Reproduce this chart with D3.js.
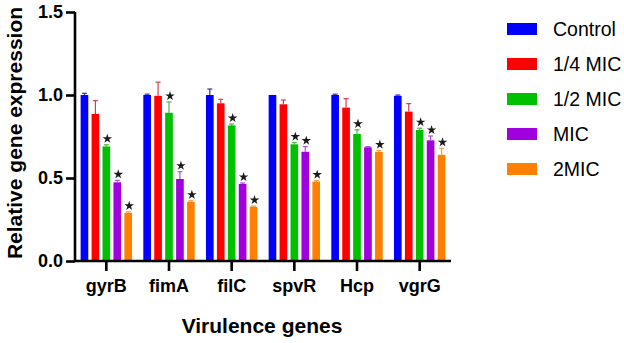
<!DOCTYPE html>
<html>
<head>
<meta charset="utf-8">
<script src="https://cdn.jsdelivr.net/npm/d3@7"></script>
<style>
  body { margin: 0; background: #fff; }
  svg { font-family: Arial, "Liberation Sans", sans-serif; }
</style>
</head>
<body>
<div id="chart"></div>
<script>
const genes = ["gyrB", "fimA", "filC", "spvR", "Hcp", "vgrG"];
const groups = ["Control", "1/4 MIC", "1/2 MIC", "MIC", "2MIC"];
const colors = ["#0000ff", "#ff0000", "#00c000", "#a000e0", "#ff8000"];
const errColors = ["#3030c0", "#d04050", "#50b050", "#b050e0", "#f0a040"];

// values per gene, in order of groups
const control = [1.0, 1.0, 1.0, 1.0, 1.0, 0.995];
const quarterMIC = [0.886, 0.995, 0.95, 0.944, 0.924, 0.90];
const halfMIC = [0.69, 0.893, 0.817, 0.703, 0.765, 0.789];
const mic = [0.474, 0.494, 0.464, 0.658, 0.685, 0.727];
const twoMIC = [0.29, 0.357, 0.327, 0.478, 0.657, 0.64];

// error (upper SD)
const errControl = [0.01, 0.005, 0.036, 0.0, 0.005, 0.005];
const errQuarter = [0.08, 0.082, 0.024, 0.026, 0.054, 0.048];
const errHalf = [0.01, 0.065, 0.008, 0.01, 0.025, 0.011];
const errMic = [0.012, 0.044, 0.006, 0.031, 0.004, 0.026];
const errTwo = [0.006, 0.006, 0.004, 0.006, 0.008, 0.039];

// significance stars
const starControl = [0, 0, 0, 0, 0, 0];
const starQuarter = [0, 0, 0, 0, 0, 0];
const starHalf = [1, 1, 1, 1, 1, 1];
const starMic = [1, 1, 1, 1, 0, 1];
const starTwo = [1, 1, 1, 1, 1, 1];

const yTicks = [0.0, 0.5, 1.0, 1.5];

const series = [control, quarterMIC, halfMIC, mic, twoMIC];
const errs = [errControl, errQuarter, errHalf, errMic, errTwo];
const stars = [starControl, starQuarter, starHalf, starMic, starTwo];

const width = 624, height = 343;
const margin = {top: 12, right: 173, bottom: 82, left: 75};

const svg = d3.select("#chart").append("svg")
    .attr("width", width)
    .attr("height", height);

const x = d3.scaleBand()
    .domain(genes)
    .range([margin.left, width - margin.right])
    .paddingInner(0.18)
    .paddingOuter(0.09);

const xSub = d3.scaleBand()
    .domain(groups)
    .range([0, x.bandwidth()])
    .paddingInner(0.3);

const y = d3.scaleLinear()
    .domain([0, 1.5])
    .range([height - margin.bottom, margin.top]);

// flatten for drawing
const bars = [];
genes.forEach(function(g, gi) {
    groups.forEach(function(s, si) {
        bars.push({gene: g, group: s, si: si, value: series[si][gi], err: errs[si][gi], star: stars[si][gi]});
    });
});

const cx = d => x(d.gene) + xSub(d.group) + xSub.bandwidth() / 2;

const g = svg.append("g");

// error bars (behind bars)
const eb = g.selectAll(".err").data(bars.filter(d => d.err > 0)).enter().append("g")
    .attr("class", "err")
    .attr("stroke", d => errColors[d.si])
    .attr("stroke-width", 1.2);
eb.append("line")
    .attr("x1", cx)
    .attr("x2", cx)
    .attr("y1", d => y(d.value))
    .attr("y2", d => y(d.value + d.err));
eb.append("line")
    .attr("x1", d => cx(d) - 2.5)
    .attr("x2", d => cx(d) + 2.5)
    .attr("y1", d => y(d.value + d.err))
    .attr("y2", d => y(d.value + d.err));

g.selectAll(".bar").data(bars).enter().append("rect")
    .attr("class", "bar")
    .attr("x", d => x(d.gene) + xSub(d.group))
    .attr("width", xSub.bandwidth())
    .attr("y", d => y(d.value))
    .attr("height", d => y(0) - y(d.value))
    .attr("fill", d => colors[d.si]);

// stars
g.selectAll(".star").data(bars.filter(d => d.star)).enter().append("path")
    .attr("class", "star")
    .attr("transform", d => "translate(" + (cx(d) + 1) + "," + (y(d.value + d.err) - 6) + ")")
    .attr("d", d3.symbol().type(d3.symbolStar).size(28))
    .attr("fill", "#1a1a1a");

// axes
const yAxis = svg.append("g")
    .attr("transform", "translate(" + margin.left + ",0)")
    .call(d3.axisLeft(y).tickValues(yTicks).tickFormat(d3.format(".1f")).tickSize(9).tickPadding(3));
const xAxis = svg.append("g")
    .attr("transform", "translate(0," + y(0) + ")")
    .call(d3.axisBottom(x).tickSize(10).tickPadding(8));

[yAxis, xAxis].forEach(function(a) {
    a.select(".domain").attr("stroke", "#000").attr("stroke-width", 2.6);
    a.selectAll(".tick line").attr("stroke", "#000").attr("stroke-width", 2.6);
    a.selectAll(".tick text")
        .style("font-family", "Arial, 'Liberation Sans', sans-serif")
        .style("font-size", "18px")
        .style("font-weight", "bold")
        .attr("fill", "#000");
});
yAxis.select(".domain").attr("d", "M0," + y(1.5) + "V" + y(0));
xAxis.select(".domain").attr("d", "M" + margin.left + ",0H" + (width - margin.right));

// axis titles
svg.append("text")
    .attr("transform", "translate(15," + 133 + ") rotate(-90)")
    .attr("text-anchor", "middle")
    .attr("dy", "0.35em")
    .style("font-size", "21px")
    .style("font-weight", "bold")
    .text("Relative gene expression");

svg.append("text")
    .attr("x", 262)
    .attr("y", 333)
    .attr("text-anchor", "middle")
    .style("font-size", "21px")
    .style("font-weight", "bold")
    .text("Virulence genes");

// legend
const legend = svg.append("g").attr("transform", "translate(507,23)");
const item = legend.selectAll(".item").data(groups).enter().append("g")
    .attr("transform", (d, i) => "translate(0," + i * 35 + ")");
item.append("rect")
    .attr("width", 30)
    .attr("height", 12)
    .attr("fill", (d, i) => colors[i]);
item.append("text")
    .attr("x", 46)
    .attr("y", 6)
    .attr("dy", "0.35em")
    .style("font-size", "19.5px")
    .text(d => d);
</script>
</body>
</html>
